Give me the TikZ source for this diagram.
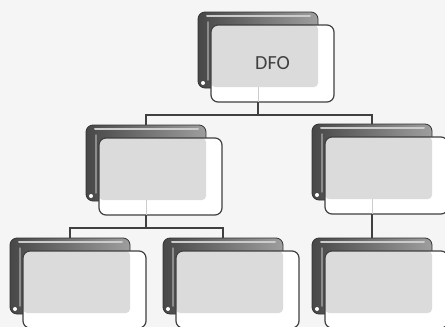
\documentclass[tikz,border=0pt]{standalone}
\usepackage{fontspec}
\setsansfont{Carlito}
\usetikzlibrary{positioning,calc}
\tikzset{
  back/.style={minimum width=120pt, minimum height=76pt, inner sep=0pt, outer sep=0pt,
    rounded corners=7pt, draw=black!80, line width=0.8pt, left color=black!72, right color=black!38,
    path picture={
      \draw[black!20, line width=2pt, line cap=round]
        ($(path picture bounding box.north west)+(9pt,-4pt)$) -- ($(path picture bounding box.north east)+(-8pt,-4pt)$);
      \draw[black!45, line width=1.5pt, line cap=round]
        ($(path picture bounding box.north west)+(10pt,-10pt)$) -- ($(path picture bounding box.south west)+(10pt,8pt)$);
      \fill[white] ($(path picture bounding box.south west)+(5pt,5pt)$) circle (2pt);
    }},
  front/.style={minimum width=123pt, minimum height=77pt, inner sep=0pt, outer sep=0pt,
    rounded corners=7pt, draw=black!75, line width=1.2pt, fill=white,
    font=\sffamily\fontsize{20}{24}\selectfont, text=black!75,
    path picture={
      \fill[black!14, rounded corners=4pt] (path picture bounding box.north west)
        rectangle ($(path picture bounding box.south east)+(-16pt,15pt)$);
    }},
  link/.style={draw=black!75, line width=1.6pt},
  faint/.style={draw=black!20, line width=0.6pt}
}
\begin{document}
\begin{tikzpicture}[x=1pt, y=-1pt]
\useasboundingbox (0,0) rectangle (445,327);
\fill[black!4] (0,0) rectangle (445,327);
\clip (0,0) rectangle (445,327);
% top level
\node[back] (dfoback) at (258,50) {};
\node[front, below right=13pt and 13pt of dfoback.north west] (dfo) {DFO};
% second level
\node[back] (lback) at (146,163) {};
\node[front, below right=13pt and 13pt of lback.north west] (lbox) {};
\node[back] (rback) at (372,162) {};
\node[front, below right=13pt and 13pt of rback.north west] (rbox) {};
% third level
\node[back] (llback) at (70,276) {};
\node[front, below right=13pt and 13pt of llback.north west] (llbox) {};
\node[back] (lrback) at (223,276) {};
\node[front, below right=13pt and 13pt of lrback.north west] (lrbox) {};
\node[back] (rrback) at (372,276) {};
\node[front, below right=13pt and 13pt of rrback.north west] (rrbox) {};
% connectors
\draw[link] (dfoback |- dfo.south) -- ++(0,13) -| (lback.north);
\draw[link] (dfoback |- dfo.south) -- ++(0,13) -| (rback.north);
\draw[link] (lback |- lbox.south) -- ++(0,13) -| (llback.north);
\draw[link] (lback |- lbox.south) -- ++(0,13) -| (lrback.north);
\draw[link] (rback |- rbox.south) -- (rrback.north);
\draw[faint] (dfoback |- dfo.south) -- ++(0,-15);
\draw[faint] (lback |- lbox.south) -- ++(0,-15);
\draw[faint] (rback |- rbox.south) -- ++(0,-15);
\end{tikzpicture}
\end{document}
